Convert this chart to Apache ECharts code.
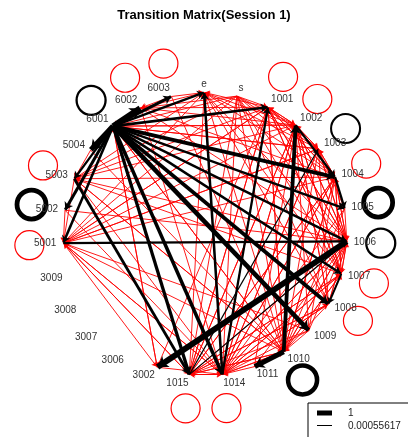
<!DOCTYPE html>
<html><head><meta charset="utf-8">
<script src="https://cdn.jsdelivr.net/npm/echarts@6/dist/echarts.min.js"></script>
<style>html,body{margin:0;padding:0;background:#fff}#c{width:408px;height:437px}</style>
</head><body><div id="c"></div>
<script>
// ---- data ----
const nodes = ['s','1001','1002','1003','1004','1005','1006','1007','1008','1009','1010','1011','1014','1015',
  '3002','3006','3007','3008','3009','5001','5002','5003','5004','6001','6002','6003','e'];

// strong transitions drawn in black: [from, to, probability]
const blackEdges = [
  ['6001','6002',1.0], ['6001','5004',0.9], ['1006','3002',1.0], ['1010','1011',0.85],
  ['6001','1009',0.75], ['6001','1008',0.6], ['6001','1004',0.6], ['1010','1002',0.6],
  ['6001','1015',0.5], ['6001','1014',0.55], ['6001','6003',0.45], ['5003','1015',0.4],
  ['6001','5002',0.45], ['6001','5001',0.35], ['6001','1006',0.35], ['6001','1005',0.3],
  ['6001','1007',0.35], ['6001','1001',0.35], ['6001','e',0.3], ['5001','1006',0.3],
  ['1002','1004',0.3], ['1004','1005',0.3], ['1007','1008',0.25], ['1014','e',0.35],
  ['1014','1001',0.3], ['6001','5003',0.3], ['1015','1003',0.08], ['1015','1006',0.08]
];

// weak transitions drawn in red: [from, [to...]]
const redEdges = [
  ['1001', ['e','1002','1003','1004','1006','1007','1010','1014','1015','5001','6001']],
  ['1002', ['e','1001','1003','1006','1007','1008','1014','1015','5003','6001']],
  ['1003', ['e','1001','1002','1004','1006','1010','1014','5001','6001']],
  ['1004', ['e','1001','1002','1003','1006','1007','1010','1014','1015','5001','5003']],
  ['1005', ['1003','1006','1010','1014']],
  ['1006', ['e','1001','1002','1003','1004','1007','1008','1010','1014','1015','5001','6001']],
  ['1007', ['e','1001','1002','1004','1006','1010','1014','1015','5003']],
  ['1008', ['e','1002','1003','1006','1007','1010','1014','1015','6001']],
  ['1009', ['1002','1004','1006','1010','1014','1015','5001']],
  ['1010', ['e','1001','1004','1006','1007','1014','1015','6001','5003']],
  ['1011', ['1002','1006','1010','1014']],
  ['1014', ['1002','1003','1004','1006','1007','1008','1010','1015','5001','6001']],
  ['1015', ['e','1001','1002','1004','1007','1008','1010','1014','5001','6001']],
  ['3002', ['1001','1014','6001']],
  ['5001', ['e','1001','1002','1003','1010','1014','1015','3002','6001']],
  ['5002', ['5001','1006','1014']],
  ['5003', ['e','1001','1006','1010','1014','5001','6001']],
  ['5004', ['5003','1010']],
  ['6001', ['1002','1003','1010','3002']],
  ['6002', ['e','1001','1002','1004','1006','1014','6001']],
  ['6003', ['e','6002','1010']],
  ['s',    ['1001','1002','1003','1004','1006','1007','1008','1010','1014','1015','5001','5003','6001','6002']]
];

// self transitions
const blackLoops = [['6001',0.3], ['1003',0.25], ['1005',0.8], ['1006',0.3], ['1010',0.75], ['5002',0.8]];
const redLoops = ['6002','6003','1001','1002','1004','1007','1008','1014','1015','5001','5003'];

const legendValues = ['1', '0.00055617'];

// ---- drawing ----
const CX = 205, CY = 234, RX = 142, RY = 141.5, W = 408, H = 437, A0 = 13;
const N = nodes.length;
const idx = {}; nodes.forEach((n, i) => idx[n] = i);
const ang = i => (A0 + i * 360 / N) * Math.PI / 180;
const widthOf = w => 0.8 + 5 * w;
const FONT = 'Liberation Sans, Arial, sans-serif';

const graphData = nodes.map((n, i) => {
  const a = ang(i), ux = Math.sin(a), uy = -Math.cos(a);
  const align = ux > 0.05 ? 'left' : (ux < -0.05 ? 'right' : 'center');
  return { name: n, value: [Math.sin(a), Math.cos(a)],
    label: { position: [0.5 + 7 * ux, 0.5 + 8.5 * uy], align: align, verticalAlign: 'middle' } };
});

const links = [];
redEdges.forEach(([s, ts]) => ts.forEach(t => links.push({
  source: idx[s], target: idx[t], lineStyle: { color: '#ff0000', width: 0.9, opacity: 1 }, symbolSize: [0, 5]
})));
blackEdges.forEach(([s, t, w]) => links.push({
  source: idx[s], target: idx[t], lineStyle: { color: '#000000', width: widthOf(w), opacity: 1 }, symbolSize: [0, 5 + 5 * w]
}));

const LOOP = 1 + 34 / RX;
const loopData = [];
redLoops.forEach(n => { const a = ang(idx[n]);
  loopData.push({ value: [LOOP * Math.sin(a), LOOP * Math.cos(a)], itemStyle: { borderColor: '#ff0000', borderWidth: 1.2 } }); });
blackLoops.forEach(([n, w]) => { const a = ang(idx[n]);
  loopData.push({ value: [LOOP * Math.sin(a), LOOP * Math.cos(a)], itemStyle: { borderColor: '#000000', borderWidth: widthOf(w) } }); });

const chart = echarts.init(document.getElementById('c'), null, { renderer: 'canvas' });
chart.setOption({
  animation: false,
  title: { text: 'Transition Matrix(Session 1)', left: 'center', top: 9, padding: 0,
    textStyle: { fontSize: 13, fontWeight: 'bold', color: '#000', fontFamily: FONT } },
  grid: { left: 0, top: 0, width: W, height: H },
  xAxis: { type: 'value', min: -CX / RX, max: (W - CX) / RX, show: false },
  yAxis: { type: 'value', min: -(H - CY) / RY, max: CY / RY, show: false },
  series: [
    { type: 'scatter', data: loopData, symbol: 'circle', symbolSize: 29, silent: true, z: 1,
      itemStyle: { color: 'rgba(0,0,0,0)', opacity: 1 } },
    { type: 'graph', coordinateSystem: 'cartesian2d', layout: 'none', z: 2, silent: true,
      symbol: 'circle', symbolSize: 1, itemStyle: { color: 'rgba(0,0,0,0)' },
      edgeSymbol: ['none', 'arrow'], edgeSymbolSize: [0, 5],
      lineStyle: { opacity: 1 },
      label: { show: true, fontSize: 10, color: '#333', fontFamily: FONT, formatter: '{b}' },
      emphasis: { disabled: true },
      data: graphData, links: links }
  ],
  graphic: [
    { type: 'rect', shape: { x: 308, y: 403, width: 120, height: 50 }, style: { fill: '#fff', stroke: '#000', lineWidth: 1 }, z: 10 },
    { type: 'line', shape: { x1: 317, y1: 413, x2: 332, y2: 413 }, style: { stroke: '#000', lineWidth: 5 }, z: 11 },
    { type: 'line', shape: { x1: 317, y1: 425.5, x2: 332, y2: 425.5 }, style: { stroke: '#000', lineWidth: 1 }, z: 11 },
    { type: 'text', x: 348, y: 413, style: { text: legendValues[0], font: '10px ' + FONT, fill: '#222', verticalAlign: 'middle' }, z: 11 },
    { type: 'text', x: 348, y: 426, style: { text: legendValues[1], font: '10px ' + FONT, fill: '#222', verticalAlign: 'middle' }, z: 11 }
  ]
});
</script></body></html>
